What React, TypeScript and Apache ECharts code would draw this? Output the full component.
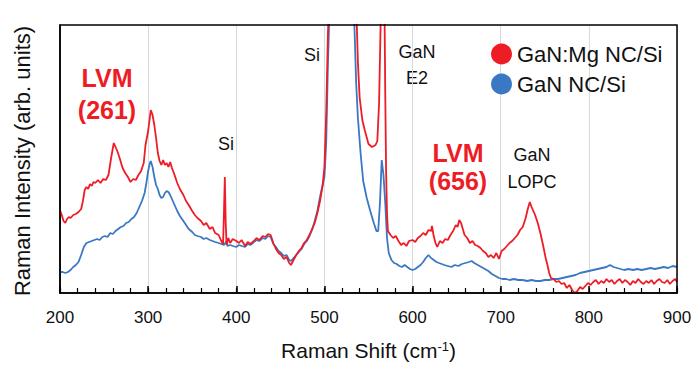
import React, { useEffect, useRef } from "react";
import * as echarts from "echarts";

// Raman shift (cm-1) vs. intensity (arb. units) — [shift, intensity]
const gaNMgSpectrum: number[][] = [
  [200, 83], [202, 78], [204, 72], [206, 70], [208, 74], [210, 76], [212, 75], [215, 78], [218, 79], [221, 81],
  [224, 84], [226, 92], [228, 103], [230, 106], [232, 104], [234, 109], [236, 107], [238, 111], [240, 110], [243, 113],
  [246, 110], [249, 114], [252, 113], [255, 118], [258, 135], [261, 150], [263, 146], [265, 142], [268, 134], [271, 125],
  [274, 120], [277, 116], [280, 111], [283, 114], [286, 113], [289, 118], [292, 122], [295, 130], [297, 148], [300, 162],
  [303, 183], [305, 178], [307, 168], [309, 155], [311, 140], [313, 132], [315, 128], [317, 133], [319, 128], [321, 130],
  [323, 126], [325, 131], [327, 125], [330, 118], [333, 110], [336, 104], [340, 98], [343, 92], [346, 88], [350, 82],
  [353, 78], [356, 75], [360, 72], [363, 68], [366, 70], [370, 64], [373, 66], [376, 60], [380, 58], [383, 52],
  [385, 49], [386, 80], [387, 116], [388, 70], [389, 48], [391, 55], [393, 50], [396, 54], [400, 52], [403, 50],
  [406, 53], [410, 47], [413, 51], [416, 49], [420, 52], [423, 55], [426, 53], [430, 57], [433, 56], [436, 59],
  [439, 58], [442, 50], [445, 44], [448, 40], [451, 38], [454, 34], [457, 36], [460, 30], [462, 28], [465, 33],
  [468, 38], [471, 42], [474, 45], [477, 50], [480, 53], [483, 58], [486, 64], [489, 70], [492, 80], [495, 92],
  [498, 108], [500, 126], [502, 180], [504, 260], [507, 340], [512, 450], [520, 600], [528, 600], [533, 400], [536, 290],
  [538, 230], [540, 195], [543, 173], [546, 162], [550, 149], [554, 146], [558, 148], [560, 152], [562, 190], [564, 280],
  [566, 400], [568, 300], [569, 200], [570, 120], [571, 80], [572, 62], [575, 58], [578, 55], [581, 57], [584, 52],
  [587, 48], [590, 50], [593, 47], [596, 52], [600, 53], [603, 51], [606, 55], [609, 57], [612, 60], [615, 58],
  [618, 63], [621, 62], [622, 67], [624, 57], [626, 50], [628, 46], [631, 52], [634, 50], [637, 54], [640, 53],
  [643, 58], [646, 62], [649, 68], [651, 66], [653, 73], [655, 70], [657, 64], [659, 58], [662, 55], [665, 50],
  [668, 52], [671, 48], [674, 47], [677, 45], [680, 42], [683, 40], [686, 36], [689, 38], [692, 35], [695, 40],
  [698, 34], [701, 42], [704, 44], [707, 47], [710, 50], [713, 52], [716, 55], [719, 58], [722, 63], [725, 66],
  [728, 74], [731, 85], [733, 91], [735, 86], [737, 82], [739, 78], [742, 70], [745, 60], [748, 48], [751, 35],
  [753, 28], [755, 20], [757, 15], [760, 14], [763, 11], [766, 12], [769, 9], [772, 10], [775, 5], [778, 8],
  [781, 3], [784, 0], [787, 2], [790, 6], [793, 4], [796, 7], [799, 10], [802, 8], [805, 11], [808, 13],
  [811, 9], [814, 12], [817, 10], [820, 14], [823, 11], [826, 13], [829, 9], [832, 12], [835, 14], [838, 10],
  [841, 13], [844, 11], [847, 8], [850, 12], [853, 10], [856, 14], [859, 11], [862, 9], [865, 12], [868, 10],
  [871, 13], [874, 9], [877, 12], [880, 14], [883, 11], [886, 10], [889, 13], [892, 9], [895, 12], [898, 14], [900, 11],
];

const gaNSpectrum: number[][] = [
  [200, 21], [203, 21], [206, 20], [209, 21], [212, 23], [215, 26], [218, 28], [221, 31], [224, 38], [227, 46],
  [230, 50], [233, 51], [236, 52], [239, 53], [242, 54], [245, 53], [248, 56], [251, 57], [254, 56], [257, 60],
  [260, 59], [263, 62], [266, 64], [269, 66], [272, 67], [275, 70], [278, 71], [281, 74], [284, 76], [287, 80],
  [290, 86], [293, 92], [296, 100], [298, 110], [300, 122], [302, 130], [303, 132], [305, 126], [307, 116], [309, 108],
  [311, 104], [313, 98], [315, 95], [317, 96], [319, 100], [321, 102], [323, 101], [325, 98], [327, 94], [330, 88],
  [333, 82], [336, 77], [340, 72], [343, 68], [346, 64], [350, 61], [353, 58], [356, 57], [360, 56], [363, 54],
  [366, 55], [370, 53], [373, 52], [376, 51], [380, 50], [383, 49], [386, 48], [389, 52], [390, 47], [393, 48],
  [396, 47], [400, 46], [403, 48], [406, 47], [410, 46], [413, 49], [416, 48], [420, 51], [423, 53], [426, 52],
  [430, 55], [433, 54], [436, 57], [439, 56], [442, 49], [445, 46], [448, 42], [451, 40], [454, 37], [457, 38],
  [460, 33], [462, 32], [465, 35], [468, 38], [471, 41], [474, 44], [477, 49], [480, 52], [483, 57], [486, 63],
  [489, 72], [492, 82], [495, 96], [498, 108], [500, 116], [502, 150], [504, 230], [507, 320], [512, 440], [520, 600],
  [528, 550], [531, 350], [534, 268], [536, 210], [538, 175], [541, 140], [544, 112], [548, 95], [552, 82], [556, 70],
  [559, 62], [561, 62], [563, 90], [565, 133], [567, 118], [569, 90], [571, 55], [573, 40], [576, 33], [579, 30],
  [582, 29], [585, 27], [588, 26], [591, 28], [594, 26], [597, 24], [600, 23], [603, 24], [606, 26], [609, 28],
  [612, 31], [615, 35], [618, 38], [621, 35], [624, 33], [627, 31], [630, 30], [633, 29], [636, 28], [640, 27],
  [644, 26], [648, 28], [652, 27], [656, 29], [660, 30], [664, 31], [667, 32], [670, 30], [674, 28], [678, 26],
  [682, 24], [686, 22], [690, 19], [694, 17], [698, 15], [702, 14], [706, 14], [710, 13], [715, 14], [720, 13],
  [725, 13], [730, 12], [735, 13], [740, 12], [745, 12], [750, 13], [755, 13], [760, 14], [765, 14], [770, 15],
  [775, 16], [780, 17], [785, 18], [790, 20], [795, 21], [800, 22], [805, 23], [810, 24], [815, 25], [820, 26],
  [824, 28], [828, 26], [832, 25], [836, 24], [840, 23], [845, 24], [850, 23], [855, 24], [860, 23], [865, 24],
  [870, 25], [875, 24], [880, 25], [885, 26], [890, 25], [895, 27], [900, 26],
];

const seriesNames = ["GaN:Mg NC/Si", "GaN NC/Si"];
const seriesColors = ["#ee1c25", "#3a78c3"];
const xTitle = "{a|Raman Shift (cm}{s|-1}{a|)}";
const yTitle = "Raman Intensity (arb. units)";

const FONT = "Arial";
const G = { left: 60, right: 18, top: 25, bottom: 73, w: 695, h: 366 };

export default function App() {
  const ref = useRef<HTMLDivElement>(null);
  useEffect(() => {
    if (!ref.current) return;
    document.body.style.margin = "0";
    const chart = echarts.init(ref.current, undefined, { renderer: "svg" });
    const blackText = (x: number, y: number, t: string) => ({
      type: "text",
      x,
      y,
      style: { text: t, fill: "#111", fontSize: 18, fontFamily: FONT, align: "center", verticalAlign: "middle" },
    });
    const redText = (x: number, y: number, t: string) => ({
      type: "text",
      x,
      y,
      style: {
        text: t,
        fill: "#ee1c25",
        fontSize: 25,
        fontWeight: "bold",
        fontFamily: FONT,
        align: "center",
        verticalAlign: "middle",
      },
    });
    const pw = G.w - G.left - G.right;
    const ph = G.h - G.top - G.bottom;
    chart.setOption({
      animation: false,
      backgroundColor: "#fff",
      grid: { left: G.left, right: G.right, top: G.top, bottom: G.bottom },
      legend: {
        orient: "vertical",
        left: 486,
        top: 38,
        itemWidth: 21,
        itemHeight: 21,
        itemGap: 8,
        icon: "circle",
        data: seriesNames,
        textStyle: { fontSize: 22, color: "#111", fontFamily: FONT },
      },
      xAxis: [
        {
          type: "value",
          min: 200,
          max: 900,
          interval: 100,
          position: "bottom",
          axisLine: { show: true, onZero: false, lineStyle: { color: "#000", width: 1.5 } },
          axisTick: { show: true, inside: true, length: 7, lineStyle: { color: "#000", width: 1.5 } },
          axisLabel: { fontSize: 17, color: "#111", margin: 16, fontFamily: FONT },
          splitLine: { show: true, lineStyle: { color: "#d9d9d9", width: 1 } },
        },
        {
          type: "value",
          min: 200,
          max: 900,
          interval: 20,
          position: "bottom",
          axisLine: { show: false, onZero: false },
          axisTick: { show: true, inside: true, length: 5, lineStyle: { color: "#000", width: 1.2 } },
          axisLabel: { show: false },
          splitLine: { show: false },
        },
      ],
      yAxis: {
        type: "value",
        min: 0,
        max: 268,
        position: "left",
        axisLine: { show: true, onZero: false, lineStyle: { color: "#000", width: 1.5 } },
        axisTick: { show: false },
        axisLabel: { show: false },
        splitLine: { show: false },
      },
      series: [
        {
          name: seriesNames[1],
          type: "line",
          data: gaNSpectrum,
          showSymbol: false,
          symbol: "none",
          lineStyle: { color: seriesColors[1], width: 1.8 },
          itemStyle: { color: seriesColors[1] },
        },
        {
          name: seriesNames[0],
          type: "line",
          data: gaNMgSpectrum,
          showSymbol: false,
          symbol: "none",
          lineStyle: { color: seriesColors[0], width: 1.8 },
          itemStyle: { color: seriesColors[0] },
        },
      ],
      graphic: [
        {
          type: "rect",
          shape: { x: G.left, y: G.top, width: pw, height: ph },
          style: { fill: "none", stroke: "#000", lineWidth: 1.5 },
          silent: true,
          z: 10,
        },
        {
          type: "text",
          x: G.left + pw / 2,
          y: 350,
          style: {
            text: xTitle,
            align: "center",
            verticalAlign: "middle",
            rich: {
              a: { fontSize: 21, fill: "#111", fontFamily: FONT },
              s: { fontSize: 13, fill: "#111", fontFamily: FONT, verticalAlign: "top", padding: [0, 0, 8, 0] },
            },
          },
        },
        {
          type: "text",
          x: 22,
          y: 161,
          rotation: Math.PI / 2,
          style: { text: yTitle, fill: "#111", fontSize: 22, fontFamily: FONT, align: "center", verticalAlign: "middle" },
        },
        redText(107, 78, "LVM"),
        redText(107, 110, "(261)"),
        redText(458, 153, "LVM"),
        redText(458, 181, "(656)"),
        blackText(312, 55, "Si"),
        blackText(226, 144, "Si"),
        blackText(417, 52, "GaN"),
        blackText(417, 78, "E2"),
        blackText(532, 155, "GaN"),
        blackText(532, 182, "LOPC"),
      ],
    });
    return () => chart.dispose();
  }, []);
  return <div ref={ref} style={{ width: 695, height: 366 }} />;
}
